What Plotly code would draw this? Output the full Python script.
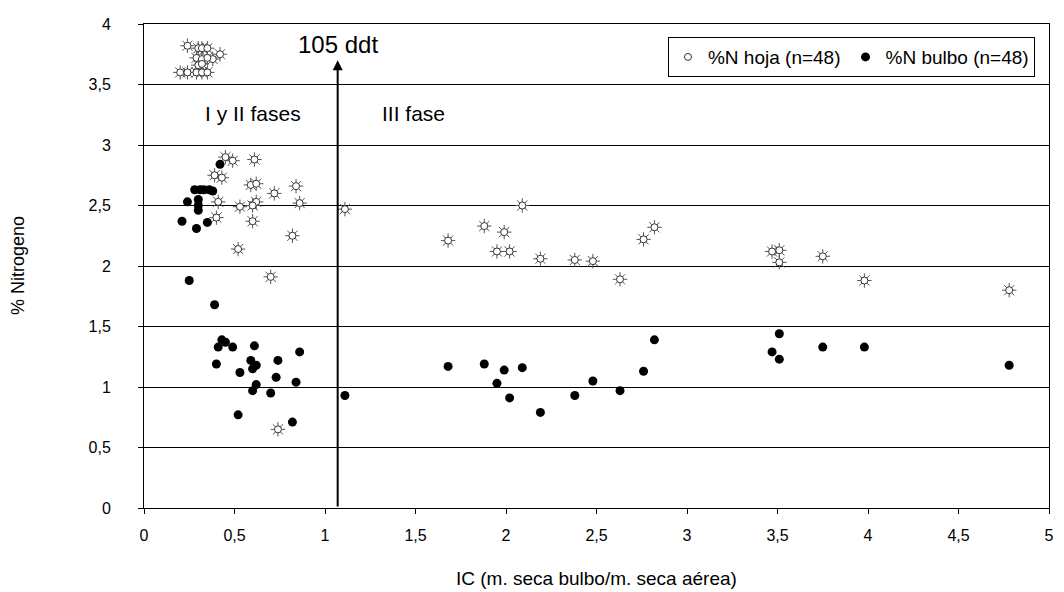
import plotly.graph_objects as go

# %N hoja (leaf)
hoja_x = [0.24, 0.30, 0.32, 0.35, 0.42, 0.38, 0.29, 0.32, 0.35, 0.30, 0.32, 0.20, 0.24, 0.29, 0.32, 0.35,
          0.45, 0.49, 0.61, 0.39, 0.43, 0.59, 0.62, 0.84, 0.72, 0.41, 0.62, 0.86, 0.53, 0.60, 0.40, 0.60,
          0.82, 0.52, 0.70, 0.74,
          1.11, 1.68, 1.88, 1.99, 1.95, 2.02, 2.09, 2.19, 2.38, 2.48, 2.63, 2.76, 2.82, 3.47, 3.51, 3.51,
          3.75, 3.98, 4.78]
hoja_y = [3.82, 3.80, 3.80, 3.80, 3.75, 3.71, 3.72, 3.71, 3.72, 3.66, 3.67, 3.60, 3.60, 3.60, 3.60, 3.60,
          2.90, 2.87, 2.88, 2.75, 2.73, 2.67, 2.68, 2.66, 2.60, 2.53, 2.53, 2.52, 2.49, 2.50, 2.40, 2.37,
          2.25, 2.14, 1.91, 0.65,
          2.47, 2.21, 2.33, 2.28, 2.12, 2.12, 2.50, 2.06, 2.05, 2.04, 1.89, 2.22, 2.32, 2.12, 2.13, 2.03,
          2.08, 1.88, 1.80]

# %N bulbo (bulb)
bulbo_x = [0.42, 0.28, 0.31, 0.33, 0.36, 0.38, 0.24, 0.30, 0.30, 0.30, 0.21, 0.29, 0.35, 0.25, 0.39,
           0.43, 0.45, 0.41, 0.49, 0.61, 0.86, 0.40, 0.59, 0.62, 0.60, 0.74, 0.53, 0.73, 0.84, 0.62, 0.60,
           0.70, 0.52, 0.82,
           1.11, 1.68, 1.88, 1.99, 2.09, 1.95, 2.02, 2.19, 2.38, 2.48, 2.63, 2.76, 2.82, 3.47, 3.51, 3.51,
           3.75, 3.98, 4.78]
bulbo_y = [2.84, 2.63, 2.63, 2.63, 2.63, 2.62, 2.53, 2.55, 2.50, 2.46, 2.37, 2.31, 2.36, 1.88, 1.68,
           1.39, 1.37, 1.33, 1.33, 1.34, 1.29, 1.19, 1.22, 1.18, 1.15, 1.22, 1.12, 1.08, 1.04, 1.02, 0.97,
           0.95, 0.77, 0.71,
           0.93, 1.17, 1.19, 1.14, 1.16, 1.03, 0.91, 0.79, 0.93, 1.05, 0.97, 1.13, 1.39, 1.29, 1.44, 1.23,
           1.33, 1.33, 1.18]

x_ticks = [0, 0.5, 1, 1.5, 2, 2.5, 3, 3.5, 4, 4.5, 5]
x_labels = ["0", "0,5", "1", "1,5", "2", "2,5", "3", "3,5", "4", "4,5", "5"]
y_ticks = [0, 0.5, 1, 1.5, 2, 2.5, 3, 3.5, 4]
y_labels = ["0", "0,5", "1", "1,5", "2", "2,5", "3", "3,5", "4"]

boundary_x = 1.07
boundary_top = 3.7

FONT = "Liberation Sans, Arial, sans-serif"

fig = go.Figure()
# rays of the sun-like leaf marker
fig.add_trace(go.Scatter(
    x=hoja_x, y=hoja_y, mode="markers", showlegend=False, legendgroup="hoja",
    marker=dict(symbol="asterisk-open", size=12, color="#555555",
                line=dict(color="#555555", width=1)),
    hoverinfo="skip"))
fig.add_trace(go.Scatter(
    x=hoja_x, y=hoja_y, mode="markers", name="%N hoja (n=48)", legendgroup="hoja",
    marker=dict(symbol="circle", size=7, color="white",
                line=dict(color="#333333", width=1))))
fig.add_trace(go.Scatter(
    x=bulbo_x, y=bulbo_y, mode="markers", name="%N bulbo (n=48)",
    marker=dict(symbol="circle", size=9, color="black",
                line=dict(color="black", width=0))))

fig.add_annotation(x=boundary_x, y=boundary_top, ax=boundary_x, ay=0,
                   xref="x", yref="y", axref="x", ayref="y",
                   showarrow=True, arrowhead=2, arrowsize=1, arrowwidth=2,
                   arrowcolor="black", text="")
fig.add_annotation(x=boundary_x, y=boundary_top, xref="x", yref="y",
                   text="105 ddt", showarrow=False, yanchor="bottom", yshift=0,
                   font=dict(size=24, color="black", family=FONT))
fig.add_annotation(x=0.6, y=3.26, xref="x", yref="y", text="I y II fases",
                   showarrow=False, font=dict(size=21, color="black", family=FONT))
fig.add_annotation(x=1.49, y=3.26, xref="x", yref="y", text="III fase",
                   showarrow=False, font=dict(size=21, color="black", family=FONT))
# axis titles
fig.add_annotation(x=0.5, y=0, xref="paper", yref="paper", yshift=-70,
                   text="IC (m. seca bulbo/m. seca aérea)", showarrow=False,
                   yanchor="middle", font=dict(size=19, color="black", family=FONT))
fig.add_annotation(x=0, y=0.5, xref="paper", yref="paper", xshift=-126,
                   text="% Nitrogeno", showarrow=False, textangle=-90,
                   xanchor="center", font=dict(size=18, color="black", family=FONT))

fig.update_layout(
    width=1056, height=584,
    margin=dict(l=136, r=15, t=16, b=84, autoexpand=False),
    paper_bgcolor="white", plot_bgcolor="white",
    font=dict(family=FONT, size=16, color="black"),
    showlegend=True,
    legend=dict(orientation="h", x=0.9845, y=0.973, xanchor="right", yanchor="top",
                bgcolor="white", bordercolor="black", borderwidth=1,
                font=dict(size=19, family=FONT), itemwidth=30,
                tracegroupgap=0),
    xaxis=dict(range=[0, 5], tickvals=x_ticks, ticktext=x_labels, automargin=False,
               showgrid=False, zeroline=False, showline=True, linecolor="black",
               linewidth=1, mirror=True, ticks="outside", ticklen=5, tickcolor="black",
               ticklabelstandoff=8, tickfont=dict(size=16)),
    yaxis=dict(range=[0, 4], tickvals=y_ticks, ticktext=y_labels, automargin=False,
               showgrid=True, gridcolor="black", gridwidth=1, zeroline=False,
               showline=True, linecolor="black", linewidth=1, mirror=True,
               ticks="outside", ticklen=5, tickcolor="black",
               ticklabelstandoff=24, tickfont=dict(size=16)),
)

fig.write_html("out.html")
